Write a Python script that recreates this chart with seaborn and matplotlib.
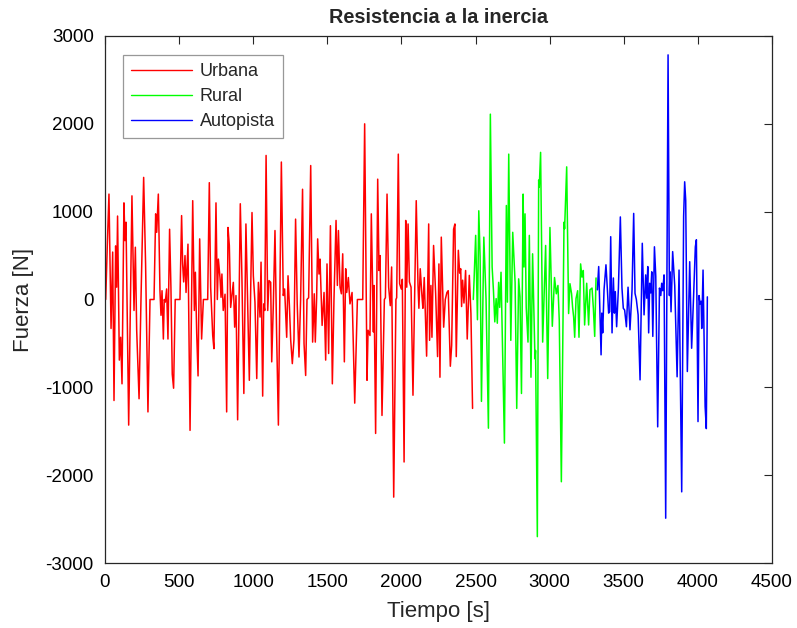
import numpy as np
import pandas as pd
import matplotlib
matplotlib.use("Agg")
import matplotlib.pyplot as plt
import seaborn as sns

# Inertia resistance force per driving segment: time [s] and force [N]
urbana_t = [5, 16, 27, 41, 52, 61, 72, 79, 85, 97, 106, 115, 128, 135, 142, 160, 182, 196, 205, 214,
            230, 243, 261, 274, 290, 304, 331, 342, 349, 360, 371, 378, 385, 394, 400, 407, 416, 425,
            436, 445, 454, 463, 474, 506, 517, 524, 531, 540, 547, 560, 574, 592, 603, 610, 619, 628,
            639, 652, 664, 693, 704, 713, 727, 735, 749, 758, 765, 776, 783, 789, 798, 810, 821, 830,
            839, 848, 866, 875, 884, 895, 913, 924, 937, 951, 962, 974, 983, 992, 1001, 1012, 1024,
            1035, 1046, 1053, 1064, 1071, 1078, 1087, 1098, 1107, 1118, 1125, 1136, 1147, 1158, 1170,
            1190, 1203, 1212, 1226, 1235, 1244, 1253, 1264, 1275, 1286, 1297, 1309, 1320, 1333, 1343,
            1354, 1363, 1374, 1388, 1401, 1412, 1419, 1428, 1435, 1444, 1451, 1465, 1478, 1489, 1498,
            1509, 1521, 1534, 1545, 1559, 1568, 1575, 1586, 1595, 1604, 1615, 1624, 1631, 1642, 1653,
            1667, 1685, 1703, 1739, 1752, 1768, 1775, 1788, 1797, 1811, 1815, 1826, 1840, 1849, 1856,
            1869, 1885, 1892, 1903, 1914, 1925, 1934, 1948, 1963, 1968, 1979, 1988, 1999, 2006, 2018,
            2029, 2036, 2045, 2054, 2065, 2078, 2100, 2112, 2118, 2127, 2139, 2145, 2154, 2170, 2184,
            2190, 2199, 2206, 2217, 2231, 2244, 2253, 2260, 2269, 2285, 2296, 2307, 2316, 2330, 2339,
            2352, 2361, 2370, 2384, 2393, 2400, 2406, 2413, 2422, 2433, 2444, 2458, 2469, 2480]
urbana_f = [0, 630, 1200, -330, 540, -1150, 610, 140, 950, -690, -430, -960, 1100, 670, 880, -1430, 1180,
            -125, 595, -350, -1130, 0, 1390, 405, -1280, 0, 0, 975, 765, 1200, 100, -180, 100, -450, 0,
            -30, 120, -450, 800, 140, -850, -1010, 0, 0, 955, 405, 200, 500, 80, 630, -1490, 1125, -125,
            310, -390, -870, 690, -450, 0, 0, 1330, 140, -410, -560, 1100, 0, 460, 250, 25, 290, -125,
            60, -1280, 820, 615, -90, 195, -315, 45, -1370, 1090, 250, -1070, 860, 0, -920, 100, 990,
            270, -30, -900, 195, -200, 425, -1100, -50, -125, 1640, -125, 215, 195, -710, -50, 785,
            -390, -1430, 1565, 45, 120, -430, 270, -60, -460, -730, -460, 915, -50, -655, 0, 1255,
            -500, -865, 0, 20, 1525, -485, 65, -485, 20, 690, 290, 460, -295, 80, -690, 405, -615, 840,
            -960, 0, 900, 160, 785, 140, 65, 520, -710, 350, 80, 250, -50, 80, -1180, 0, 0, 2000, -920,
            -350, -410, 975, -370, 160, -1525, 1370, 330, 500, -1320, 0, 20, 1200, 140, -70, 370, -2250,
            0, 20, 1655, 180, 120, 230, -1850, 900, 140, 860, 200, 140, -1090, 1125, 160, -100, 350, 30,
            -100, 250, -645, 860, -465, 160, -430, 615, 65, -650, 405, -885, 710, -315, 0, 80, 100,
            -760, -520, 800, 860, -650, 560, 300, 350, -80, 220, -40, 330, -450, 275, -160, -1240]

rural_t = [2485, 2490, 2501, 2513, 2522, 2531, 2540, 2556, 2571, 2587, 2600, 2612, 2621, 2630, 2639,
           2647, 2656, 2663, 2672, 2695, 2708, 2715, 2724, 2738, 2751, 2767, 2778, 2791, 2800, 2810,
           2821, 2827, 2834, 2842, 2854, 2863, 2874, 2885, 2901, 2905, 2917, 2926, 2930, 2939, 2953,
           2973, 2987, 3002, 3018, 3033, 3045, 3056, 3065, 3079, 3097, 3101, 3115, 3128, 3137, 3148,
           3155, 3162, 3169, 3178, 3189, 3198, 3209, 3218, 3227, 3236, 3250, 3263, 3272, 3286, 3295,
           3304, 3313]
rural_f = [0, 215, 730, -230, 1010, 480, -1160, 710, 0, -1465, 2110, 370, 100, -255, 10, -270, 195, -90,
           310, -1635, 1070, -30, 1655, -465, 765, 195, -1240, 235, 30, -1070, 1200, 370, 975, -90,
           -485, 730, -885, 520, -675, -580, -2700, 1360, 1280, 1675, -485, 615, -900, 820, -305, 250,
           65, 160, -240, -2075, 880, 805, 1510, -160, 180, 65, -90, -200, -430, 10, 100, -430, 405,
           255, 330, -290, 185, -290, 110, 130, -100, -420, 245]

autopista_t = [3322, 3331, 3347, 3352, 3358, 3367, 3380, 3389, 3398, 3405, 3412, 3421, 3430, 3437, 3443,
               3452, 3464, 3477, 3488, 3497, 3506, 3518, 3529, 3542, 3556, 3567, 3576, 3585, 3597, 3610,
               3625, 3637, 3648, 3655, 3662, 3668, 3675, 3682, 3689, 3696, 3707, 3716, 3729, 3741, 3750,
               3756, 3763, 3772, 3783, 3799, 3808, 3812, 3819, 3830, 3844, 3860, 3873, 3891, 3904, 3911,
               3918, 3929, 3945, 3958, 3972, 3983, 3990, 4001, 4008, 4015, 4022, 4026, 4035, 4049, 4057,
               4064]
autopista_f = [110, 375, -630, -155, -380, 110, 395, 130, -155, -140, 715, -380, 245, -155, 90, -310, 130,
               940, 130, -100, -120, -310, 140, -345, 110, 980, 70, 0, -175, -915, 640, -175, 280, 15,
               375, -380, 185, 75, 315, -420, 600, 265, -1450, 130, 45, 185, 100, 280, -2490, 2785, 45,
               315, -140, 545, 155, -880, 335, -2190, 945, 1340, 1130, -820, 430, -555, 75, 600, 680,
               -1390, 45, -50, -20, -330, 335, -1220, -1470, 30]

tramos = ["Urbana", "Rural", "Autopista"]
colores = ["#FF0000", "#00FF00", "#0000FF"]

df = pd.concat([
    pd.DataFrame({"Tiempo": urbana_t, "Fuerza": urbana_f, "Tramo": "Urbana"}),
    pd.DataFrame({"Tiempo": rural_t, "Fuerza": rural_f, "Tramo": "Rural"}),
    pd.DataFrame({"Tiempo": autopista_t, "Fuerza": autopista_f, "Tramo": "Autopista"}),
], ignore_index=True)

sns.set_theme(style="white")
plt.rcParams["font.family"] = ["Liberation Sans", "DejaVu Sans"]
plt.rcParams["axes.unicode_minus"] = False

fig = plt.figure(figsize=(7.97, 6.28), dpi=100)
ax = fig.add_axes([0.1317, 0.1035, 0.8369, 0.8392])

sns.lineplot(data=df, x="Tiempo", y="Fuerza", hue="Tramo", hue_order=tramos,
             palette=dict(zip(tramos, colores)), estimator=None, sort=False,
             linewidth=1.1, ax=ax)

ax.set_xlim(0, 4500)
ax.set_ylim(-3000, 3000)
ax.set_xticks(np.arange(0, 4501, 500))
ax.set_yticks(np.arange(-3000, 3001, 1000))
ax.tick_params(direction="in", length=6, width=0.8, top=True, right=True,
               labelsize=13.5, colors="#262626", labelcolor="black", pad=8)
for s in ax.spines.values():
    s.set_color("#262626")
    s.set_linewidth(0.9)

ax.set_title("Resistencia a la inercia", fontsize=14.3, fontweight="bold", pad=9)
ax.set_xlabel("Tiempo [s]", fontsize=16, color="#262626", labelpad=7)
ax.set_ylabel("Fuerza [N]", fontsize=16, color="#262626", labelpad=8)

leg = ax.legend(loc="upper left", bbox_to_anchor=(0.027, 0.964), borderaxespad=0,
                fontsize=13, frameon=True, fancybox=False, handlelength=3.4,
                handletextpad=0.4, labelspacing=0.45, borderpad=0.45, title=None)
leg.get_frame().set_edgecolor("#7f7f7f")
leg.get_frame().set_linewidth(0.9)
for ln in leg.get_lines():
    ln.set_linewidth(1.0)

fig.savefig("out.png", dpi=100, facecolor="white")
